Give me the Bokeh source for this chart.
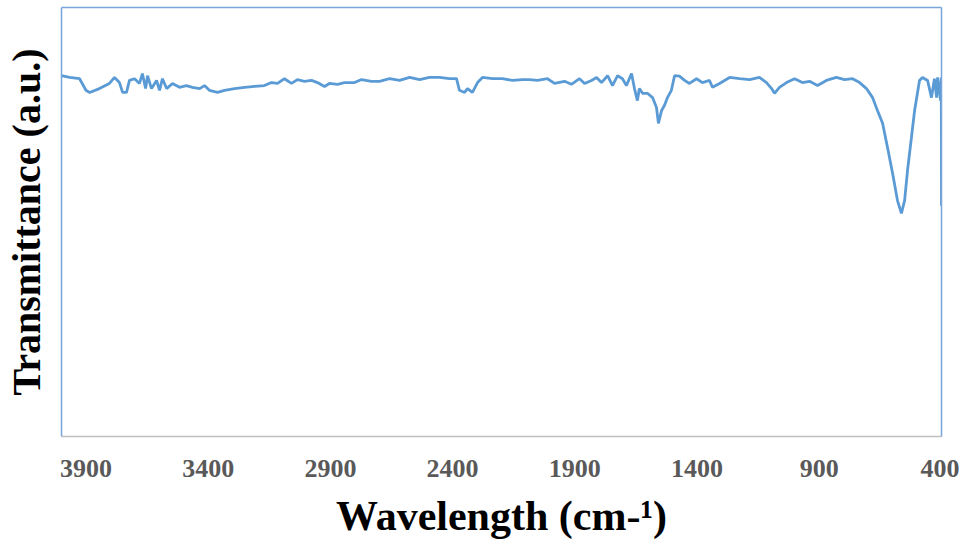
from bokeh.plotting import figure
from bokeh.models import Range1d, FixedTicker, LinearAxis
from bokeh.embed import file_html
from bokeh.resources import INLINE

wavenumber = [4000, 3967, 3926, 3900, 3885, 3845, 3804, 3783, 3763, 3750, 3734, 3722, 3701,
              3681, 3669, 3656, 3648, 3632, 3611, 3599, 3587, 3570, 3546, 3517, 3489, 3464,
              3435, 3415, 3395, 3362, 3333, 3292, 3251, 3210, 3170, 3141, 3116, 3088, 3059,
              3035, 3006, 2977, 2953, 2924, 2904, 2871, 2842, 2801, 2773, 2732, 2699, 2658,
              2617, 2576, 2535, 2495, 2454, 2413, 2384, 2372, 2351, 2339, 2319, 2298, 2278,
              2237, 2196, 2155, 2114, 2085, 2053, 2012, 1983, 1942, 1914, 1881, 1860, 1832,
              1811, 1791, 1766, 1746, 1725, 1705, 1689, 1668, 1656, 1644, 1636, 1623, 1603,
              1582, 1566, 1558, 1545, 1533, 1521, 1505, 1492, 1472, 1451, 1431, 1402, 1378,
              1349, 1337, 1308, 1267, 1226, 1185, 1145, 1116, 1095, 1083, 1063, 1034, 1001,
              969, 940, 907, 871, 830, 797, 764, 735, 707, 682, 662, 641, 621, 600, 580, 564,
              551, 539, 523, 510, 490, 478, 457, 441, 429, 420, 416, 404, 401, 400]
transmittance = [84.1, 83.7, 83.4, 80.7, 80.2, 81.1, 82.3, 83.7, 82.5, 80.2, 80.2, 83.0, 83.4,
                 82.3, 84.6, 81.1, 84.1, 81.1, 83.0, 80.7, 83.4, 81.1, 82.3, 81.4, 81.8, 81.4,
                 81.1, 81.8, 80.7, 80.2, 80.7, 81.1, 81.4, 81.6, 81.8, 82.5, 82.3, 83.4, 82.3,
                 83.2, 82.8, 83.0, 82.5, 81.6, 82.3, 82.1, 82.5, 82.5, 83.2, 82.8, 82.8, 83.4,
                 83.0, 83.7, 83.2, 83.7, 83.7, 83.4, 83.4, 80.7, 80.2, 81.1, 80.2, 82.5, 83.7,
                 83.4, 83.4, 83.0, 83.2, 83.2, 83.0, 83.4, 82.3, 82.8, 82.1, 83.4, 82.3, 83.0,
                 83.7, 82.5, 84.1, 81.8, 84.1, 83.4, 81.8, 84.6, 81.1, 78.3, 81.1, 80.0, 80.0,
                 79.0, 76.7, 73.0, 76.0, 77.2, 79.0, 80.7, 84.1, 84.0, 83.0, 82.3, 83.4, 82.5,
                 83.0, 81.4, 82.3, 83.7, 83.4, 83.2, 83.7, 82.5, 81.1, 80.0, 81.4, 82.5, 83.4,
                 82.5, 82.8, 81.8, 83.0, 83.7, 83.2, 83.4, 82.5, 81.1, 79.0, 76.0, 73.0, 67.4,
                 61.3, 55.0, 52.0, 55.0, 62.0, 69.7, 76.0, 83.0, 83.7, 83.0, 79.0, 83.4, 79.0,
                 83.7, 78.3, 83.7, 53.8]
x_ticks = [3900, 3400, 2900, 2400, 1900, 1400, 900, 400]

BLUE = "#5b9bd5"
BORDER = "#78a5da"
SERIF = "Liberation Serif"

p = figure(frame_width=880, frame_height=429, output_backend="svg", toolbar_location=None,
           x_range=Range1d(4000, 400), y_range=Range1d(0, 100),
           min_border_left=54, min_border_right=18, min_border_top=7, min_border_bottom=100,
           background_fill_color="white", border_fill_color="white")
p.outline_line_color = None
p.xgrid.visible = False
p.ygrid.visible = False

p.line(wavenumber, transmittance, line_color=BLUE, line_width=2.8)

xa = p.xaxis[0]
xa.ticker = FixedTicker(ticks=x_ticks)
xa.axis_line_color = "#bfbfbf"
xa.axis_line_width = 1.5
xa.major_tick_line_color = None
xa.major_tick_out = 0
xa.major_tick_in = 0
xa.minor_tick_line_color = None
xa.major_label_text_font = SERIF
xa.major_label_text_font_style = "bold"
xa.major_label_text_font_size = "26px"
xa.major_label_text_color = "#595959"
xa.major_label_standoff = 23
xa.axis_label = "Wavelength (cm-¹)"
xa.axis_label_text_font = SERIF
xa.axis_label_text_font_style = "bold"
xa.axis_label_text_font_size = "42px"
xa.axis_label_text_color = "black"
xa.axis_label_standoff = 13

ya = p.yaxis[0]
ya.ticker = FixedTicker(ticks=[])
ya.axis_line_color = BORDER
ya.axis_line_width = 1.5
ya.major_tick_line_color = None
ya.major_tick_out = 0
ya.major_tick_in = 0
ya.minor_tick_line_color = None
ya.major_label_standoff = 0
ya.axis_label = "Transmittance (a.u.)"
ya.axis_label_text_font = SERIF
ya.axis_label_text_font_style = "bold"
ya.axis_label_text_font_size = "40px"
ya.axis_label_text_color = "black"
ya.axis_label_standoff = 13

for place in ("right", "above"):
    ax = LinearAxis(ticker=FixedTicker(ticks=[]), axis_line_color=BORDER, axis_line_width=1.5,
                    major_tick_line_color=None, minor_tick_line_color=None,
                    major_tick_out=0, major_tick_in=0, major_label_standoff=0,
                    major_label_text_font_size="0px")
    p.add_layout(ax, place)

open("out.html", "w").write(file_html(p, INLINE))
